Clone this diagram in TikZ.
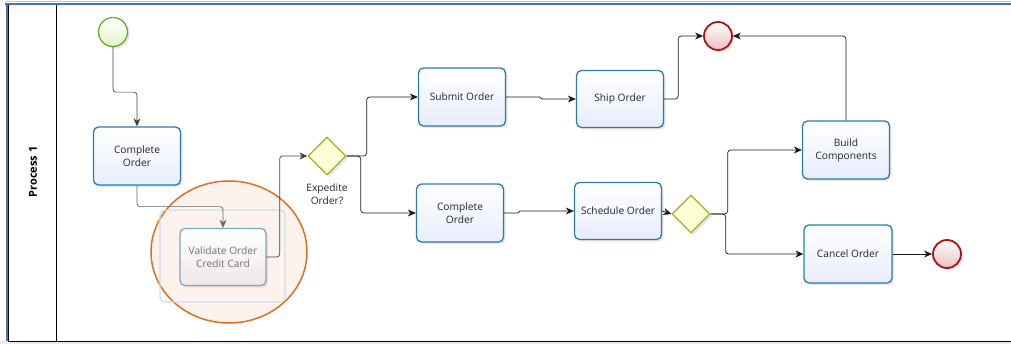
\documentclass[tikz,border=0pt]{standalone}
\usepackage{fontspec}
\setsansfont{Open Sans}
\usepackage{tikz}
\usetikzlibrary{shapes.geometric, arrows.meta, positioning, calc, shadows}
\definecolor{taskblue}{RGB}{41, 124, 170}
\definecolor{taskfill}{RGB}{232, 237, 252}
\definecolor{startgreen}{RGB}{108, 170, 40}
\definecolor{startfill}{RGB}{228, 245, 200}
\definecolor{endred}{RGB}{170, 20, 20}
\definecolor{endfill}{RGB}{238, 190, 190}
\definecolor{gateolive}{RGB}{170, 170, 40}
\definecolor{gatefill}{RGB}{255, 255, 215}
\definecolor{laneblue}{RGB}{70, 118, 176}
\definecolor{focusorange}{RGB}{226, 110, 30}
\definecolor{focusfill}{RGB}{253, 243, 236}
\definecolor{fadedblue}{RGB}{122, 168, 191}
\definecolor{fadedfill}{RGB}{240, 230, 232}
\definecolor{ghostblue}{RGB}{200, 224, 234}

\begin{document}
\begin{tikzpicture}[x=1pt, y=-1pt,
    font=\sffamily\fontsize{10.2}{13}\selectfont,
    task/.style={rectangle, rounded corners=5pt, draw=taskblue, line width=1.3pt, minimum width=87pt, minimum height=58pt, top color=white, bottom color=taskfill, align=center, text=black!85, drop shadow={opacity=0.2, shadow xshift=2pt, shadow yshift=-2pt}},
    startev/.style={circle, draw=startgreen, line width=1.3pt, minimum size=29pt, inner sep=0pt, top color=white, bottom color=startfill, drop shadow={opacity=0.2}},
    endev/.style={circle, draw=endred, line width=1.8pt, minimum size=28pt, inner sep=0pt, top color=white, bottom color=endfill, drop shadow={opacity=0.2}},
    gate/.style={diamond, draw=gateolive, line width=1.3pt, minimum width=38pt, minimum height=38pt, inner sep=0pt, fill=gatefill, drop shadow={opacity=0.2}},
    flow/.style={-{Stealth[length=8pt, width=7pt, inset=2.5pt]}, black!90, line width=0.7pt, rounded corners=3pt}
]
\useasboundingbox (0,0) rectangle (1011,344);
\fill[black!8] (0,341) rectangle (1011,344);
\draw[laneblue!40, line width=1pt] (5,1.5) -- (1011,1.5);
\draw[laneblue, line width=2pt] (5,4) -- (1011,4);
\draw[laneblue, line width=2pt] (6.5,3) -- (6.5,341);
\draw[black, line width=0.8pt] (8.5,5) -- (8.5,341) -- (1011,341);
\draw[black, line width=0.8pt] (56,5) -- (56,341);
\node[rotate=90, font=\sffamily\bfseries\fontsize{11}{13}\selectfont] (lane) at (33,172) {Process 1};

\draw[focusorange, line width=1.5pt, fill=focusfill] (229,252) ellipse [x radius=78, y radius=71];
\draw[rounded corners=5pt, draw=ghostblue, line width=1.2pt] (160,210) rectangle (285,302);

\node[startev] (start) at (113,32) {};
\node[task] (co1) at (137,156) {Complete\\Order};
\node[task, draw=fadedblue, top color=white, bottom color=fadedfill, text=black!55, minimum width=86pt, minimum height=57pt] (validate) at (223,257) {Validate Order\\Credit Card};
\node[gate] (gw1) at (327,156) {};
\node[align=center, text=black!85] (gw1label) at (327,194) {Expedite\\Order?};
\node[task] (submit) at (462,97) {Submit Order};
\node[task] (co2) at (460,213) {Complete\\Order};
\node[task, minimum height=57pt] (ship) at (620,99) {Ship Order};
\node[task, minimum height=57pt] (sched) at (618,211) {Schedule Order};
\node[endev] (end1) at (718,36) {};
\node[gate] (gw2) at (691,214) {};
\node[task] (build) at (846,150) {Build\\Components};
\node[task, minimum width=88pt] (cancel) at (848,254) {Cancel Order};
\node[endev] (end2) at (947,254) {};

\draw[flow, black!75] (start.south) -- ++(0,45) -| (co1.north);
\draw[flow, black!60] (co1.south) -- ++(0,21) -| (validate.north);
\draw[flow, black!75] (validate.east) -- ++(13,0) |- (gw1.west);
\draw[flow] (gw1.east) -- ++(20,0) |- (submit.west);
\draw[flow] (gw1.east) -- ++(14,0) |- (co2.west);
\draw[flow, rounded corners=1pt] (submit.east) -| ([xshift=-35pt]ship.west) -- (ship.west);
\draw[flow, rounded corners=1pt] (co2.east) -| ([xshift=-55pt]sched.west) -- (sched.west);
\draw[flow] (ship.east) -- ++(14,0) |- (end1.west);
\draw[flow] (sched.east) -- (gw2.west);
\draw[flow] (gw2.east) -- ++(17,0) |- (build.west);
\draw[flow] (gw2.east) -- ++(15,0) |- (cancel.west);
\draw[flow] (build.north) |- (end1.east);
\draw[flow] (cancel.east) -- (end2.west);
\end{tikzpicture}
\end{document}
